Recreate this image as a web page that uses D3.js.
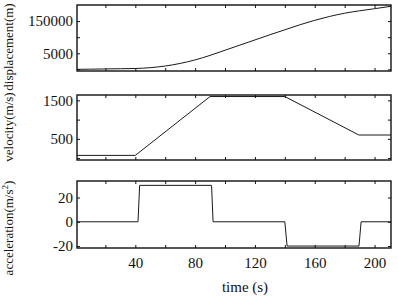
<!DOCTYPE html>
<html>
<head>
<meta charset="utf-8">
<script src="https://cdn.jsdelivr.net/npm/d3@7"></script>
<style>
  body { margin: 0; background: #fff; }
  svg text { font-family: "Liberation Serif", "DejaVu Serif", serif; fill: #111; }
</style>
</head>
<body>
<svg id="chart" width="398" height="300"></svg>
<script>
// time axis
var xDomain = [1, 211];
var xTicks = [20, 40, 60, 80, 100, 120, 140, 160, 180, 200];
var xTickLabels = [40, 80, 120, 160, 200];

// displacement (m)
var dispTime  = [1, 10, 20, 30, 40, 50, 60, 70, 80, 90, 100, 110, 120, 130, 140, 150, 160, 170, 180, 190, 200, 211];
var dispValue = [100, 700, 1400, 2100, 2800, 5300, 10500, 18500, 29500, 43500, 59500, 75500, 91500, 107500, 123000, 138500, 152500, 164500, 174500, 182000, 188500, 196000];
var dispTicks = [0, 50000, 100000, 150000];
var dispTickLabels = ["", "5000", "", "150000"];

// velocity (m/s)
var velTime  = [1, 40, 90, 140, 189.5, 211];
var velValue = [70, 70, 1600, 1600, 600, 600];
var velTicks = [0, 500, 1000, 1500];
var velTickLabels = ["", "500", "", "1500"];

// acceleration (m/s^2)
var accTime  = [1, 41.8, 42.9, 91, 92, 140, 141.5, 189.6, 191, 211];
var accValue = [0, 0, 30, 30, 0, 0, -20, -20, 0, 0];
var accTicks = [-20, 0, 20];
var accTickLabels = ["-20", "0", "20"];

var left = 77, right = 391;
var serif = '"Liberation Serif", "DejaVu Serif", serif';
var svg = d3.select("#chart");

var x = d3.scaleLinear().domain(xDomain).range([left, right]);

var panels = [
    {top: 5, bottom: 71, domain: [-5000, 200000], t: dispTime, v: dispValue,
     ticks: dispTicks, labels: dispTickLabels, curve: d3.curveMonotoneX},
    {top: 95, bottom: 160, domain: [-50, 1640], t: velTime, v: velValue,
     ticks: velTicks, labels: velTickLabels, curve: d3.curveLinear},
    {top: 181, bottom: 248, domain: [-21.6, 33.6], t: accTime, v: accValue,
     ticks: accTicks, labels: accTickLabels, curve: d3.curveLinear}
];

panels.forEach((p, i) => {
    let y = d3.scaleLinear().domain(p.domain).range([p.bottom, p.top]);
    let g = svg.append("g");

    // the curve
    let pts = p.t.map((t, k) => [t, p.v[k]]);
    g.append("path")
        .datum(pts)
        .attr("fill", "none")
        .attr("stroke", "#1a1a1a")
        .attr("stroke-width", 1)
        .attr("d", d3.line().x(d => x(d[0])).y(d => y(d[1])).curve(p.curve));

    // ticks inside the box
    let last = i == panels.length - 1;
    g.append("g")
        .attr("transform", "translate(0," + p.bottom + ")")
        .call(d3.axisBottom(x).tickValues(xTicks).tickSize(-3).tickPadding(9)
            .tickFormat(d => last && xTickLabels.indexOf(d) >= 0 ? d : ""));
    g.append("g")
        .attr("transform", "translate(0," + p.top + ")")
        .call(d3.axisTop(x).tickValues(xTicks).tickSize(-3).tickFormat(""));
    g.append("g")
        .attr("transform", "translate(" + left + ",0)")
        .call(d3.axisLeft(y).tickValues(p.ticks).tickSize(-3).tickPadding(4)
            .tickFormat((d, k) => p.labels[k]));
    g.append("g")
        .attr("transform", "translate(" + right + ",0)")
        .call(d3.axisRight(y).tickValues(p.ticks).tickSize(-3).tickFormat(""));

    g.selectAll(".domain").remove();
    g.selectAll(".tick line").attr("stroke", "#111").attr("stroke-width", 1);
    g.selectAll(".tick text")
        .style("font-family", serif)
        .style("font-size", "15px")
        .attr("fill", "#111");

    // frame
    g.append("rect")
        .attr("x", left).attr("y", p.top)
        .attr("width", right - left).attr("height", p.bottom - p.top)
        .attr("fill", "none")
        .attr("stroke", "#111")
        .attr("stroke-width", 1.4);
});

// axis titles
function yTitle(cy) {
    return svg.append("text")
        .attr("transform", "translate(13," + cy + ") rotate(-90)")
        .attr("text-anchor", "middle")
        .style("font-family", serif)
        .style("font-size", "13px");
}
yTitle(47).text("displacement(m)");
yTitle(127).text("velocity(m/s)");
let acc = yTitle(228);
acc.append("tspan").text("acceleration(m/s");
acc.append("tspan").style("font-size", "9px").attr("dy", -5).text("2");
acc.append("tspan").attr("dy", 5).text(")");

svg.append("text")
    .attr("x", 245).attr("y", 292)
    .attr("text-anchor", "middle")
    .style("font-family", serif)
    .style("font-size", "15px")
    .text("time (s)");
</script>
</body>
</html>
